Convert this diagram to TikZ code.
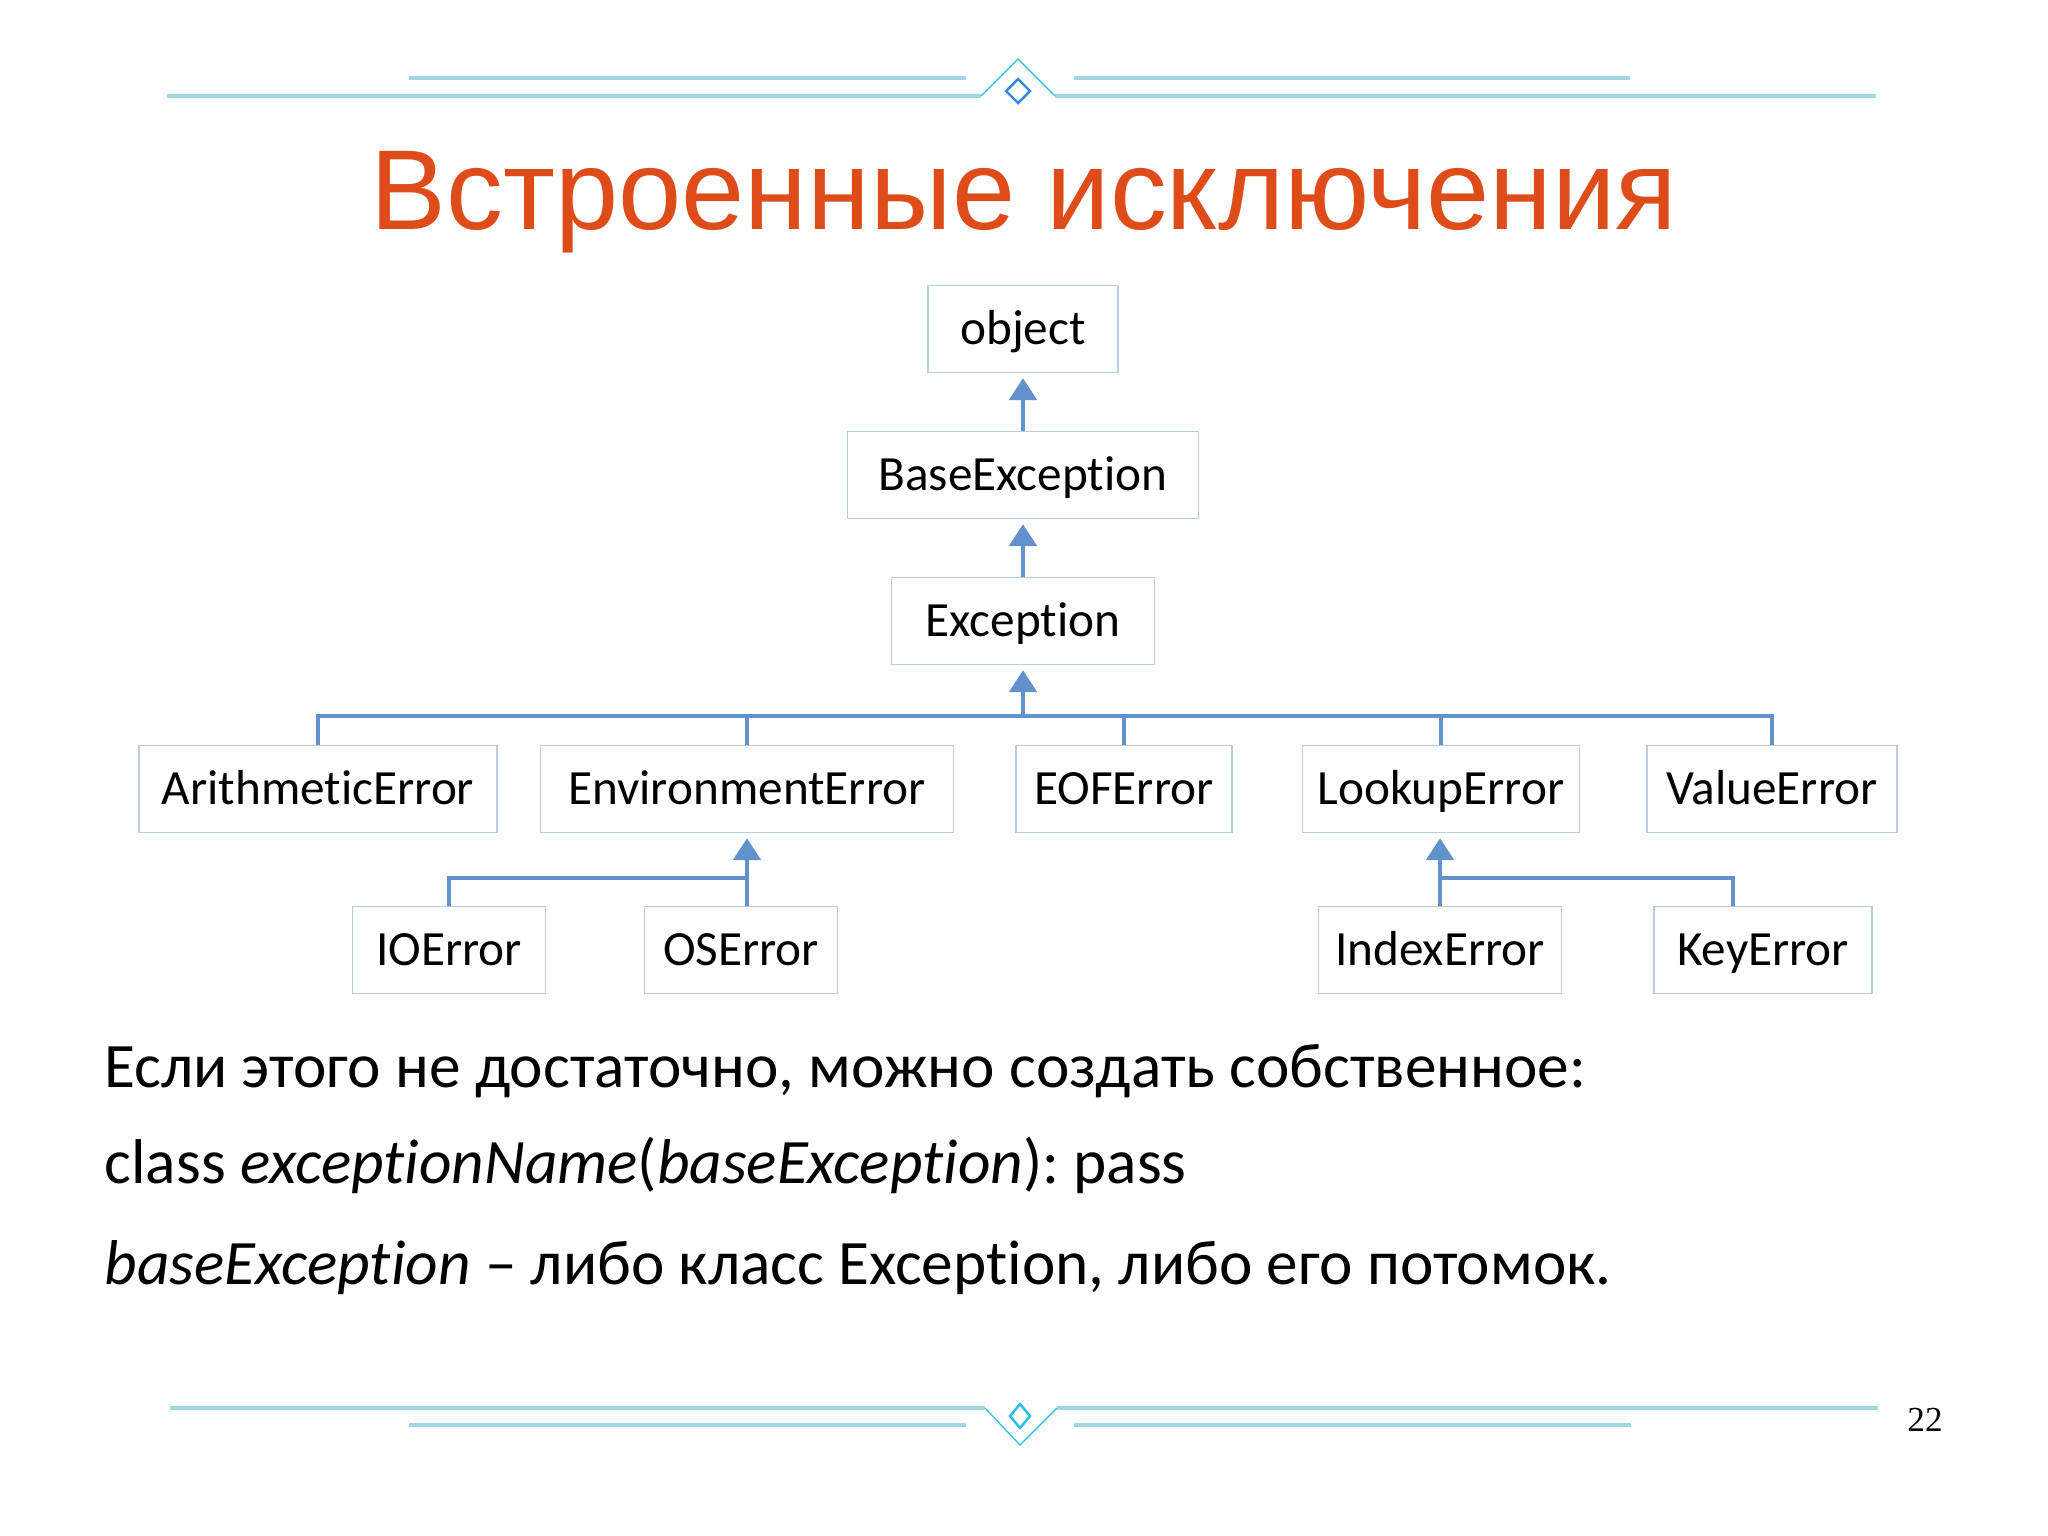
\documentclass[tikz,border=0pt]{standalone}
\usepackage{fontspec}
\setmainfont{Carlito}[Ligatures={NoCommon}]
\newfontfamily\titlefont{Liberation Sans}
\newfontfamily\numfont{Liberation Serif}
\usetikzlibrary{arrows.meta}
\definecolor{titlered}{RGB}{222,76,26}
\definecolor{boxline}{RGB}{185,206,230}
\definecolor{linkblue}{RGB}{98,146,203}
\definecolor{ornline}{RGB}{160,214,230}
\definecolor{orncyan}{RGB}{40,190,232}
\definecolor{ornblue}{RGB}{50,135,225}
\tikzset{
  cls/.style={draw=boxline, line width=.45pt, minimum width=#1, minimum height=.87cm, inner sep=0pt, text height=11pt, text depth=2.4pt, font=\fontsize{14}{16}\selectfont},
  link/.style={draw=linkblue, line width=1.05pt},
  inherit/.style={link, -{Triangle[width=7.8pt, length=6.2pt]}, shorten >=1.4pt},
  orn/.style={draw=ornline, line width=.9pt},
  peak/.style={draw=orncyan, line width=.35pt},
  txt/.style={anchor=base west, inner sep=0pt, font=\fontsize{18}{22}\selectfont}
}
\frenchspacing
\begin{document}
\begin{tikzpicture}[x=0.01cm, y=-0.01cm]
        \useasboundingbox[fill=white] (0, 0) rectangle (2048, 1535);

        \draw[orn] (167, 96) -- (981, 96);
        \draw[orn] (1055, 96) -- (1876, 96);
        \draw[orn] (409, 78) -- (966, 78);
        \draw[orn] (1074, 78) -- (1630, 78);
        \draw[peak] (981, 96) -- (1018, 59) -- (1055, 96);
        \draw[ornblue, line width=.7pt] (1018, 79) -- (1030, 91) -- (1018, 103) -- (1006, 91) -- cycle;

        \node[titlered, anchor=base, inner sep=0pt, font=\titlefont\fontsize{32.3}{36}\selectfont] (title) at (1024, 229) {Встроенные исключения};

        \node[cls=1.9cm] (obj) at (1023, 329) {object};
        \node[cls=3.51cm] (base) at (1023, 475) {BaseException};
        \node[cls=2.63cm] (exc) at (1023, 621) {Exception};

        \node[cls=3.58cm] (arith) at (318, 789) {ArithmeticError};
        \node[cls=4.13cm] (env) at (747, 789) {EnvironmentError};
        \node[cls=2.16cm] (eof) at (1124, 789) {EOFError};
        \node[cls=2.77cm] (lookup) at (1441, 789) {LookupError};
        \node[cls=2.50cm] (value) at (1772, 789) {ValueError};

        \node[cls=1.93cm] (ioerr) at (449, 950) {IOError};
        \node[cls=1.93cm] (oserr) at (741, 950) {OSError};
        \node[cls=2.43cm] (index) at (1440, 950) {IndexError};
        \node[cls=2.18cm] (keyerr) at (1763, 950) {KeyError};

        \coordinate (bus) at (0, 716);
        \coordinate (envbus) at (0, 878);

        \draw[inherit] (base) -- (obj);
        \draw[inherit] (exc) -- (base);

        \draw[link] (arith.north) |- (bus -| value.north) -- (value.north);
        \draw[link] (env.north) -- (env.north |- bus);
        \draw[link] (eof.north) -- (eof.north |- bus);
        \draw[link] (lookup.north) -- (lookup.north |- bus);
        \draw[inherit] (exc.south |- bus) -- (exc.south);

        \draw[inherit] (env.south |- oserr.north) -- (env.south);
        \draw[link] (ioerr.north) |- (env.south |- envbus);

        \draw[inherit] (index.north) -- (index.north |- lookup.south);
        \draw[link] ([xshift=-3mm]keyerr.north) |- (index.north |- envbus);

        \node[txt] (line1) at (104, 1087) {Если этого не достаточно, можно создать собственное:};
        \node[txt] (line2) at (104, 1183) {class \textit{exceptionName}(\textit{baseException}): pass};
        \node[txt] (line3) at (104, 1284) {\textit{baseException} – либо класс Exception, либо его потомок.};

        \draw[orn] (170, 1408) -- (985, 1408);
        \draw[orn] (1057, 1408) -- (1878, 1408);
        \draw[orn] (409, 1425) -- (966, 1425);
        \draw[orn] (1074, 1425) -- (1631, 1425);
        \draw[peak] (985, 1408) -- (1020, 1445) -- (1057, 1408);
        \draw[orncyan, line width=.7pt] (1020, 1404) -- (1030, 1416) -- (1020, 1428) -- (1010, 1416) -- cycle;

        \node[font=\numfont\fontsize{10}{12}\selectfont] (page) at (1925, 1420) {22};

    \end{tikzpicture}
\end{document}
